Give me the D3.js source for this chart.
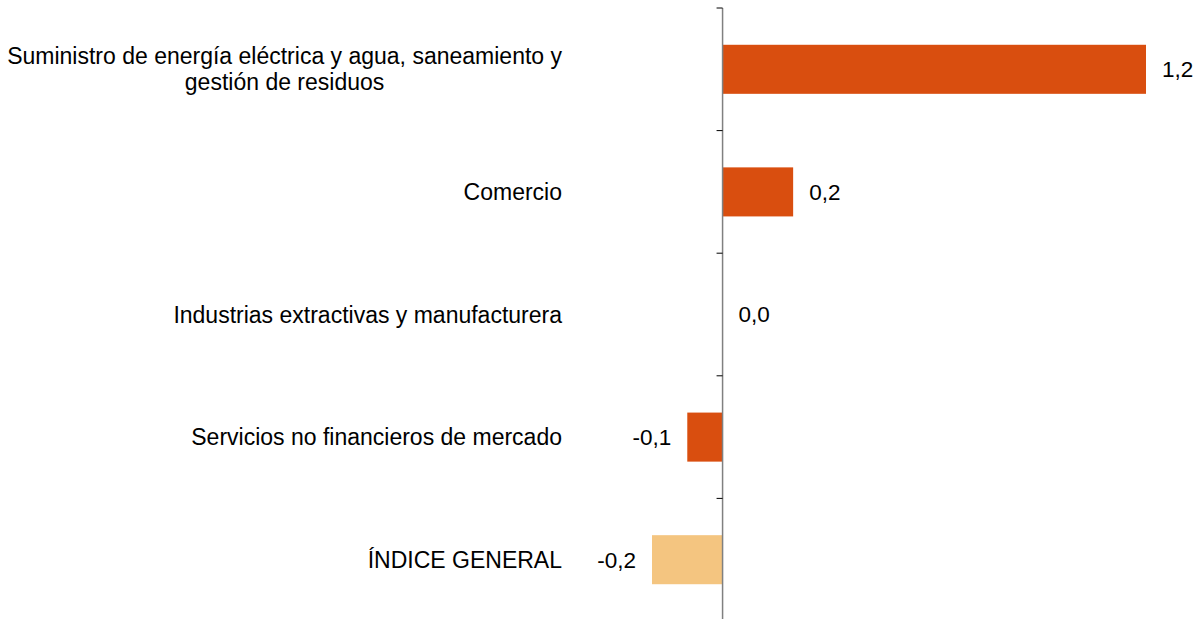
<!DOCTYPE html>
<html>
<head>
<meta charset="utf-8">
<script src="https://cdn.jsdelivr.net/npm/d3@7"></script>
<style>
  body { margin: 0; background: #fff; }
  text { font-family: "Liberation Sans", Arial, sans-serif; font-size: 22.5px; fill: #000; }
  text.cat { font-size: 23px; }
</style>
</head>
<body>
<div id="chart"></div>
<script>
// categories, top to bottom (label lines)
var categories = [
  ["Suministro de energía eléctrica y agua, saneamiento y", "gestión de residuos"],
  ["Comercio"],
  ["Industrias extractivas y manufacturera"],
  ["Servicios no financieros de mercado"],
  ["ÍNDICE GENERAL"]
];
var values = [1.2, 0.2, 0.0, -0.1, -0.2];
var valueLabels = ["1,2", "0,2", "0,0", "-0,1", "-0,2"];
var highlight = [false, false, false, false, true];

const W = 1202, H = 619;
const svg = d3.select("#chart").append("svg")
  .attr("width", W).attr("height", H);

const x = d3.scaleLinear().domain([-0.2, 1.2]).range([652, 1146]);
const y = d3.scaleBand().domain(d3.range(values.length)).range([8, 621]).paddingInner(0.6).paddingOuter(0.3);

// bars
svg.selectAll(".bar")
  .data(values)
  .join("rect")
  .attr("class", "bar")
  .attr("x", d => x(Math.min(0, d)))
  .attr("width", d => Math.abs(x(d) - x(0)))
  .attr("y", (d, i) => y(i))
  .attr("height", y.bandwidth())
  .attr("fill", (d, i) => highlight[i] ? "#f4c580" : "#d94e0f");

// axis line with ticks at band boundaries
const step = y.step();
const bounds = d3.range(values.length + 1).map(i => 8 + i * step);
svg.append("line")
  .attr("x1", x(0)).attr("x2", x(0))
  .attr("y1", 8).attr("y2", H + 5)
  .attr("stroke", "#808080").attr("stroke-width", 1.5);
svg.selectAll(".tick")
  .data(bounds)
  .join("line")
  .attr("class", "tick")
  .attr("x1", x(0) - 6).attr("x2", x(0))
  .attr("y1", d => d).attr("y2", d => d)
  .attr("stroke", "#000").attr("stroke-width", 1);

// value labels
svg.selectAll(".val")
  .data(values)
  .join("text")
  .attr("class", "val")
  .attr("x", d => d >= 0 ? x(d) + 16 : x(d) - 16)
  .attr("y", (d, i) => y(i) + y.bandwidth() / 2)
  .attr("dy", "0.35em")
  .attr("text-anchor", d => d >= 0 ? "start" : "end")
  .text((d, i) => valueLabels[i]);

// category labels
const labelRight = 562, lineH = 26;
categories.forEach(function(lines, i) {
  const cy = y(i) + y.bandwidth() / 2;
  const t = svg.append("text")
    .attr("class", "cat")
    .attr("text-anchor", lines.length > 1 ? "middle" : "end");
  lines.forEach(function(s, k) {
    t.append("tspan")
      .attr("x", labelRight)
      .attr("y", cy + (k - (lines.length - 1) / 2) * lineH)
      .attr("dy", "0.35em")
      .text(s);
  });
  if (lines.length > 1) {
    let maxW = 0;
    t.selectAll("tspan").each(function() { maxW = Math.max(maxW, this.getComputedTextLength()); });
    t.selectAll("tspan").attr("x", labelRight - maxW / 2);
  }
});
</script>
</body>
</html>
